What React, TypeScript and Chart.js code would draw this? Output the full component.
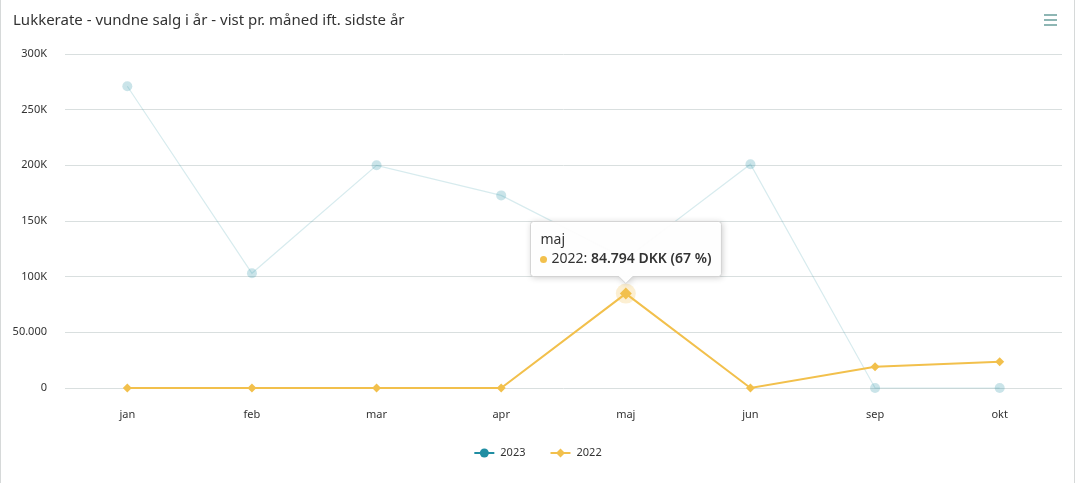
import React, { useEffect, useRef } from "react";
import { Chart, registerables } from "chart.js";

Chart.register(...registerables);

const TITLE = "Lukkerate - vundne salg i år - vist pr. måned ift. sidste år";
const months = ["jan", "feb", "mar", "apr", "maj", "jun", "sep", "okt"];
const seriesNames = ["2023", "2022"];
const sales2023 = [271000, 103000, 200000, 173000, 116000, 201000, 0, 0];
const sales2022 = [0, 0, 0, 0, 84794, 0, 19000, 23500];
const yTickValues = [0, 50000, 100000, 150000, 200000, 250000, 300000];
const yTickLabels = ["0", "50.000", "100K", "150K", "200K", "250K", "300K"];
const hoverSeries = 1;
const hoverIndex = 4;
const currency = "DKK";

const FONT = "'Noto Sans', 'Open Sans', sans-serif";
const TEAL = "rgb(32,142,163)";
const YELLOW = "rgb(242,192,76)";

function fmtDK(v: number): string {
  return Math.round(v).toString().replace(/\B(?=(\d{3})+(?!\d))/g, ".");
}

function diamond(ctx: CanvasRenderingContext2D, x: number, y: number, r: number) {
  ctx.beginPath();
  ctx.moveTo(x, y - r);
  ctx.lineTo(x + r, y);
  ctx.lineTo(x, y + r);
  ctx.lineTo(x - r, y);
  ctx.closePath();
  ctx.fill();
}

const decorPlugin = {
  id: "decor",
  beforeDatasetsDraw(chart: any) {
    const ctx = chart.ctx as CanvasRenderingContext2D;
    const meta = chart.getDatasetMeta(hoverSeries);
    const pt = meta.data[hoverIndex];
    ctx.save();
    ctx.fillStyle = "rgba(242,192,76,0.25)";
    ctx.beginPath();
    ctx.arc(pt.x, pt.y, 10, 0, Math.PI * 2);
    ctx.fill();
    ctx.restore();
  },
  afterDraw(chart: any) {
    const ctx = chart.ctx as CanvasRenderingContext2D;
    const W = chart.width;
    const H = chart.height;
    ctx.save();
    // frame
    ctx.strokeStyle = "#d6d9d9";
    ctx.lineWidth = 1;
    ctx.beginPath();
    ctx.moveTo(0.5, 0);
    ctx.lineTo(0.5, H);
    ctx.moveTo(W - 1.5, 0);
    ctx.lineTo(W - 1.5, H);
    ctx.stroke();
    // title
    ctx.fillStyle = "#333333";
    ctx.font = `15px ${FONT}`;
    ctx.textBaseline = "middle";
    ctx.textAlign = "left";
    ctx.fillText(TITLE, 13, 21);
    // hamburger
    ctx.strokeStyle = "#6a9e9c";
    ctx.lineWidth = 1.6;
    ctx.beginPath();
    for (const yy of [15, 20, 25]) {
      ctx.moveTo(1044, yy);
      ctx.lineTo(1057, yy);
    }
    ctx.stroke();

    // legend
    const cy = 453;
    ctx.font = `11px ${FONT}`;
    ctx.textBaseline = "middle";
    const items = seriesNames.map((n, i) => ({ n, color: i === 0 ? TEAL : YELLOW, shape: i === 0 ? "circle" : "diamond" }));
    const symW = 20;
    const gap = 6;
    const itemGap = 25;
    const widths = items.map((it) => symW + gap + ctx.measureText(it.n).width);
    const total = widths.reduce((a, b) => a + b, 0) + itemGap * (items.length - 1);
    let x = W / 2 - total / 2;
    items.forEach((it, i) => {
      ctx.strokeStyle = it.color;
      ctx.fillStyle = it.color;
      ctx.lineWidth = 2;
      ctx.beginPath();
      ctx.moveTo(x, cy);
      ctx.lineTo(x + symW, cy);
      ctx.stroke();
      if (it.shape === "circle") {
        ctx.beginPath();
        ctx.arc(x + symW / 2, cy, 4.5, 0, Math.PI * 2);
        ctx.fill();
      } else {
        diamond(ctx, x + symW / 2, cy, 4.5);
      }
      ctx.fillStyle = "#333333";
      ctx.fillText(it.n, x + symW + gap, cy);
      x += widths[i] + itemGap;
    });

    // tooltip
    const meta = chart.getDatasetMeta(hoverSeries);
    const pt = meta.data[hoverIndex];
    const data = chart.data.datasets[hoverSeries].data as number[];
    const val = data[hoverIndex];
    const sum = data.reduce((a: number, b: number) => a + b, 0);
    const pct = Math.round((val / sum) * 100);
    const title = months[hoverIndex];
    const lab = `${seriesNames[hoverSeries]}: `;
    const bold = `${fmtDK(val)} ${currency} (${pct} %)`;
    ctx.font = `14px ${FONT}`;
    const wLab = ctx.measureText(lab).width;
    ctx.font = `600 14px ${FONT}`;
    const wBold = ctx.measureText(bold).width;
    ctx.font = `14px ${FONT}`;
    const wTitle = ctx.measureText(title).width;
    const padL = 10;
    const lineStart = 21;
    const bw = Math.max(wTitle + padL * 2, lineStart + wLab + wBold + 10);
    const bh = 55;
    const bx = Math.round(pt.x - bw / 2) + 0.5;
    const by = Math.round(pt.y - 18 - bh) + 0.5;
    const r = 3;
    const tipY = by + bh + 7;
    ctx.save();
    ctx.shadowColor = "rgba(0,0,0,0.22)";
    ctx.shadowBlur = 6;
    ctx.shadowOffsetX = 1;
    ctx.shadowOffsetY = 1;
    ctx.fillStyle = "rgba(255,255,255,0.97)";
    ctx.beginPath();
    ctx.moveTo(bx + r, by);
    ctx.lineTo(bx + bw - r, by);
    ctx.arcTo(bx + bw, by, bx + bw, by + r, r);
    ctx.lineTo(bx + bw, by + bh - r);
    ctx.arcTo(bx + bw, by + bh, bx + bw - r, by + bh, r);
    ctx.lineTo(pt.x + 7, by + bh);
    ctx.lineTo(pt.x, tipY);
    ctx.lineTo(pt.x - 7, by + bh);
    ctx.lineTo(bx + r, by + bh);
    ctx.arcTo(bx, by + bh, bx, by + bh - r, r);
    ctx.lineTo(bx, by + r);
    ctx.arcTo(bx, by, bx + r, by, r);
    ctx.closePath();
    ctx.fill();
    ctx.restore();
    ctx.strokeStyle = "rgba(210,210,210,0.9)";
    ctx.lineWidth = 1;
    ctx.stroke();

    ctx.fillStyle = "#333333";
    ctx.textBaseline = "middle";
    ctx.font = `14px ${FONT}`;
    ctx.fillText(title, bx + padL, by + 19);
    ctx.fillStyle = YELLOW;
    ctx.beginPath();
    ctx.arc(bx + 13, by + 38, 3.5, 0, Math.PI * 2);
    ctx.fill();
    ctx.fillStyle = "#333333";
    ctx.fillText(lab, bx + lineStart, by + 38);
    ctx.font = `600 14px ${FONT}`;
    ctx.fillText(bold, bx + lineStart + wLab, by + 38);
    ctx.restore();
  },
};

export default function App() {
  const ref = useRef<HTMLCanvasElement | null>(null);
  useEffect(() => {
    document.body.style.margin = "0";
    const canvas = ref.current!;
    const radii2022 = sales2022.map((_, i) => (i === hoverIndex ? 6 : 4.5));
    const chart = new Chart(canvas, {
      type: "line",
      data: {
        labels: months,
        datasets: [
          {
            label: seriesNames[0],
            data: sales2023,
            borderColor: "rgba(32,142,163,0.18)",
            backgroundColor: "rgba(32,142,163,0.24)",
            borderWidth: 1.2,
            pointRadius: 5,
            pointBorderWidth: 0,
            pointStyle: "circle",
            tension: 0,
            clip: false as any,
            order: 1,
          },
          {
            label: seriesNames[1],
            data: sales2022,
            borderColor: YELLOW,
            backgroundColor: YELLOW,
            borderWidth: 2,
            pointRadius: radii2022,
            pointBorderWidth: 0,
            pointStyle: "rectRot",
            tension: 0,
            clip: false as any,
            order: 0,
          },
        ],
      },
      options: {
        animation: false,
        responsive: true,
        maintainAspectRatio: false,
        events: [],
        layout: { padding: { top: 54, right: 14, left: 0, bottom: 0 } },
        plugins: {
          legend: { display: false },
          tooltip: { enabled: false },
          title: { display: false },
        },
        scales: {
          x: {
            offset: true,
            grid: { display: false, drawTicks: false },
            border: { display: false },
            ticks: {
              color: "#333333",
              font: { family: FONT, size: 11 },
              padding: 20,
              maxRotation: 0,
            },
            afterFit(scale: any) {
              scale.height = 95;
            },
          },
          y: {
            min: 0,
            max: 300000,
            grid: { color: "#d9dfdf", lineWidth: 1, drawTicks: false },
            border: { display: false },
            afterBuildTicks(scale: any) {
              scale.ticks = yTickValues.map((v) => ({ value: v }));
            },
            ticks: {
              color: "#333333",
              font: { family: FONT, size: 11 },
              padding: 18,
              callback: (v: any) => {
                const i = yTickValues.indexOf(Number(v));
                return i >= 0 ? yTickLabels[i] : "";
              },
            },
            afterFit(scale: any) {
              scale.width = 65;
            },
          },
        },
      },
      plugins: [decorPlugin],
    });
    return () => chart.destroy();
  }, []);
  return (
    <div style={{ width: 1076, height: 483, position: "relative", background: "#fff" }}>
      <canvas ref={ref} />
    </div>
  );
}
